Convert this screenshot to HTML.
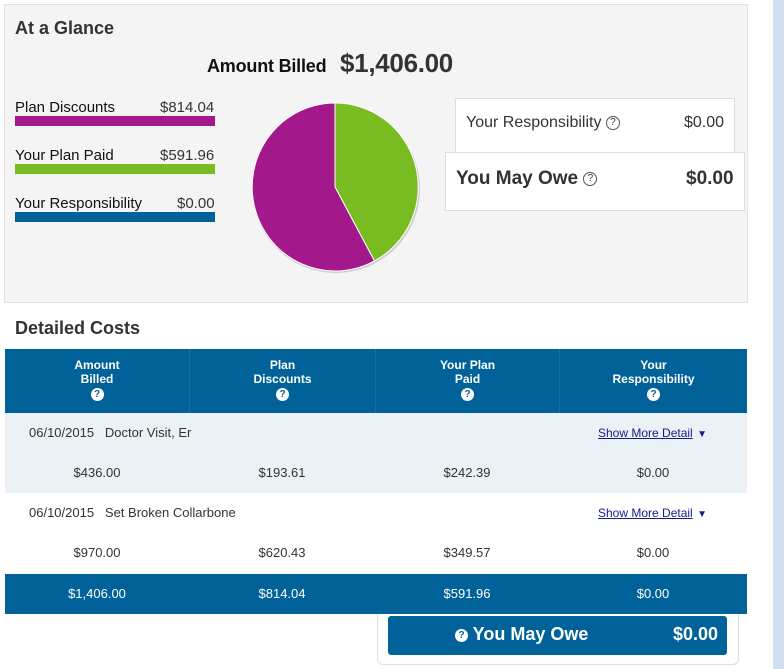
<!DOCTYPE html>
<html><head><meta charset="utf-8"><style>
*{margin:0;padding:0;box-sizing:border-box}
body{width:784px;height:669px;background:#fff;font-family:"Liberation Sans",sans-serif;color:#333;position:relative;overflow:hidden}
.a{position:absolute}
.strip{left:773px;top:0;width:11px;height:669px;background:#d3dfee}
.top{left:4px;top:4px;width:744px;height:299px;background:#f4f4f4;border:1px solid #e2e2e2}
.h{font-size:18px;font-weight:bold;color:#333}
.leg{font-size:15px;color:#111}
.bar{height:10px;width:200px}
.q{display:inline-block;width:14px;height:14px;border:1px solid #555;border-radius:50%;font-size:10px;line-height:12px;text-align:center;vertical-align:middle}
.qw{display:inline-block;width:13px;height:13px;background:#fff;color:#006298;border-radius:50%;font-size:10px;font-weight:bold;line-height:13px;text-align:center}
.blue{background:#006298;color:#fff}
.th{position:absolute;top:0;height:64px;text-align:center;font-size:12px;font-weight:bold;line-height:14px;padding-top:9px}
.c{position:absolute;text-align:center;font-size:13px;width:184px}
.lnk{color:#1a1a8a;text-decoration:underline;font-size:12px}
</style></head><body>
<div class="a strip"></div>
<div class="a top"></div>
<div class="a h" style="left:15px;top:18px">At a Glance</div>
<div class="a" style="left:207px;top:56px;font-size:18px;font-weight:bold;color:#111;letter-spacing:-0.2px">Amount Billed</div>
<div class="a" style="left:340px;top:48px;font-size:26px;font-weight:bold;color:#333;letter-spacing:-0.3px">$1,406.00</div>

<div class="a leg" style="left:15px;top:99px">Plan Discounts</div><div class="a leg" style="left:160px;top:99px;color:#333">$814.04</div>
<div class="a bar" style="left:15px;top:116px;background:#a3188b"></div>
<div class="a leg" style="left:15px;top:147px">Your Plan Paid</div><div class="a leg" style="left:160px;top:147px;color:#333">$591.96</div>
<div class="a bar" style="left:15px;top:164px;background:#78bc22"></div>
<div class="a leg" style="left:15px;top:195px">Your Responsibility</div><div class="a leg" style="left:177px;top:195px;color:#333">$0.00</div>
<div class="a bar" style="left:15px;top:212px;background:#006298"></div>

<svg class="a" style="left:245px;top:98px" width="185" height="185">
<ellipse cx="91" cy="91" rx="84" ry="84" fill="#888" opacity=".35"/>
<path d="M90 89 L90 5 A83 84 0 0 1 129.5 163 Z" fill="#78bc22" stroke="#fff" stroke-width="1"/>
<path d="M90 89 L129.5 163 A83 84 0 1 1 90 5 Z" fill="#a3188b" stroke="#fff" stroke-width="1"/>
</svg>

<div class="a" style="left:455px;top:98px;width:280px;height:60px;background:#fff;border:1px solid #ddd"></div>
<div class="a" style="left:466px;top:114px;font-size:16px;color:#333">Your Responsibility <span class="q">?</span></div>
<div class="a" style="left:684px;top:114px;font-size:16px;color:#333">$0.00</div>
<div class="a" style="left:445px;top:152px;width:300px;height:59px;background:#fff;border:1px solid #ddd"></div>
<div class="a" style="left:456px;top:168px;font-size:19px;font-weight:bold;color:#333">You May Owe <span class="q" style="font-weight:normal">?</span></div>
<div class="a" style="left:686px;top:168px;font-size:19px;font-weight:bold;color:#333">$0.00</div>

<div class="a h" style="left:15px;top:318px">Detailed Costs</div>
<div class="a blue" style="left:5px;top:349px;width:742px;height:64px">
<div class="th" style="left:0;width:184px">Amount<br>Billed<br><span class="qw">?</span></div>
<div class="th" style="left:184px;width:186px;border-left:1px solid #1a70a0">Plan<br>Discounts<br><span class="qw">?</span></div>
<div class="th" style="left:370px;width:184px;border-left:1px solid #1a70a0">Your Plan<br>Paid<br><span class="qw">?</span></div>
<div class="th" style="left:554px;width:188px;border-left:1px solid #1a70a0">Your<br>Responsibility<br><span class="qw">?</span></div>
</div>
<div class="a" style="left:5px;top:413px;width:742px;height:80px;background:#eaf2f5"></div>
<div class="a" style="left:29px;top:425px;font-size:13px">06/10/2015&nbsp;&nbsp; Doctor Visit, Er</div>
<div class="a" style="left:598px;top:424px"><span class="lnk">Show More Detail</span> <span style="color:#1a1a8a;font-size:10px">▼</span></div>
<div class="c" style="left:5px;top:465px">$436.00</div><div class="c" style="left:190px;top:465px">$193.61</div><div class="c" style="left:375px;top:465px">$242.39</div><div class="c" style="left:561px;top:465px">$0.00</div>
<div class="a" style="left:29px;top:505px;font-size:13px">06/10/2015&nbsp;&nbsp; Set Broken Collarbone</div>
<div class="a" style="left:598px;top:504px"><span class="lnk">Show More Detail</span> <span style="color:#1a1a8a;font-size:10px">▼</span></div>
<div class="c" style="left:5px;top:545px">$970.00</div><div class="c" style="left:190px;top:545px">$620.43</div><div class="c" style="left:375px;top:545px">$349.57</div><div class="c" style="left:561px;top:545px">$0.00</div>
<div class="a" style="left:377px;top:606px;width:362px;height:59px;border:1px solid #ddd;border-radius:6px;background:#fff"></div>
<div class="a blue" style="left:5px;top:574px;width:742px;height:40px"></div>
<div class="c" style="left:5px;top:586px;color:#fff">$1,406.00</div><div class="c" style="left:190px;top:586px;color:#fff">$814.04</div><div class="c" style="left:375px;top:586px;color:#fff">$591.96</div><div class="c" style="left:561px;top:586px;color:#fff">$0.00</div>
<div class="a blue" style="left:388px;top:616px;width:339px;height:39px;border-radius:3px"></div>
<div class="a" style="left:455px;top:624px;font-size:18px;font-weight:bold;color:#fff"><span class="qw" style="font-size:10px;vertical-align:2px">?</span> You May Owe</div>
<div class="a" style="left:673px;top:624px;font-size:18px;font-weight:bold;color:#fff">$0.00</div>
</body></html>
